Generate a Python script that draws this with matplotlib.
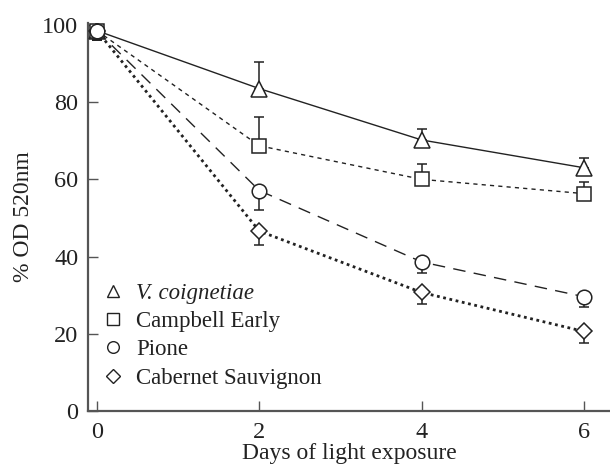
import matplotlib
matplotlib.use("Agg")
import matplotlib.pyplot as plt
from matplotlib.lines import Line2D

plt.rcParams['font.family'] = ['Liberation Serif', 'DejaVu Serif']

days = [0, 2, 4, 6]
names = ["V. coignetiae", "Campbell Early", "Pione", "Cabernet Sauvignon"]
v_coig = [98.5, 83.5, 70.2, 63.0]
campbell = [98.5, 68.7, 60.0, 56.3]
pione = [98.5, 57.1, 38.6, 29.6]
cabernet = [98.5, 46.6, 30.7, 20.6]
# (lower, upper) error lengths
v_coig_err = ([2.5, 0, 0, 0], [2.5, 6.9, 2.8, 2.5])
campbell_err = ([2.5, 0, 0, 0], [2.5, 7.5, 4.0, 2.9])
pione_err = ([2.5, 5.0, 2.8, 2.6], [2.5, 0, 0, 0])
cabernet_err = ([2.5, 3.7, 3.1, 2.9], [2.5, 0, 0, 0])
xticks = [0, 2, 4, 6]
yticks = [0, 20, 40, 60, 80, 100]

fig = plt.figure(figsize=(6.1, 4.69), dpi=100)
ax = fig.add_axes([0.1443, 0.1237, 0.8557, 0.8273])

series = [
    (v_coig, v_coig_err, '^', '-', 1.0),
    (campbell, campbell_err, 's', (0, (3, 3)), 1.0),
    (pione, pione_err, 'o', (0, (9, 6)), 1.0),
    (cabernet, cabernet_err, 'D', (0, (1, 1.3)), 2.0),
]
msizes = {'^': 11, 's': 10.5, 'o': 10.5, 'D': 8.5}
for vals, err, mk, ls, lw in series:
    ax.plot(days, vals, color='#222222', linestyle=ls, linewidth=lw, zorder=2)
for vals, err, mk, ls, lw in series:
    ax.errorbar(days, vals, yerr=err, fmt='none', ecolor='#222222',
                elinewidth=1.1, capsize=3.5, capthick=1.1, zorder=3)
marker_zorder = {'^': 4, 'D': 4.1, 's': 4.2, 'o': 4.3}
for vals, err, mk, ls, lw in series:
    ax.plot(days, vals, linestyle='none', marker=mk, markersize=msizes[mk],
            markerfacecolor='white', markeredgecolor='#222222',
            markeredgewidth=1.1, zorder=marker_zorder[mk])

ax.set_xlim(-0.11, 6.32)
ax.set_ylim(0, 100.5)
ax.set_xticks(xticks)
ax.set_yticks(yticks)
ax.tick_params(direction='in', length=7, width=1.0, color='#555555',
               labelsize=17.5, pad=7, labelcolor='#222222')
ax.tick_params(axis='x', pad=8)
for s in ['top', 'right']:
    ax.spines[s].set_visible(False)
for s in ['left', 'bottom']:
    ax.spines[s].set_color('#555555')
    ax.spines[s].set_linewidth(1.6)

ax.set_xlabel("Days of light exposure", fontsize=17, labelpad=0,
              color='#222222')
ax.set_ylabel("% OD 520nm", fontsize=17, labelpad=6, color='#222222')

handles = []
for vals, err, mk, ls, lw in series:
    handles.append(Line2D([], [], linestyle='none', marker=mk,
                          markersize=msizes[mk] * 0.8,
                          markerfacecolor='white', markeredgecolor='#222222',
                          markeredgewidth=1.0))
leg = ax.legend(handles, names, loc='lower left', bbox_to_anchor=(0.0, 0.016),
                frameon=False, fontsize=16.5, handlelength=0.8,
                handletextpad=0.6, labelspacing=0.32, borderaxespad=0.3)
for t in leg.get_texts():
    t.set_color('#222222')
leg.get_texts()[0].set_fontstyle('italic')

fig.savefig("out.png", dpi=100)
